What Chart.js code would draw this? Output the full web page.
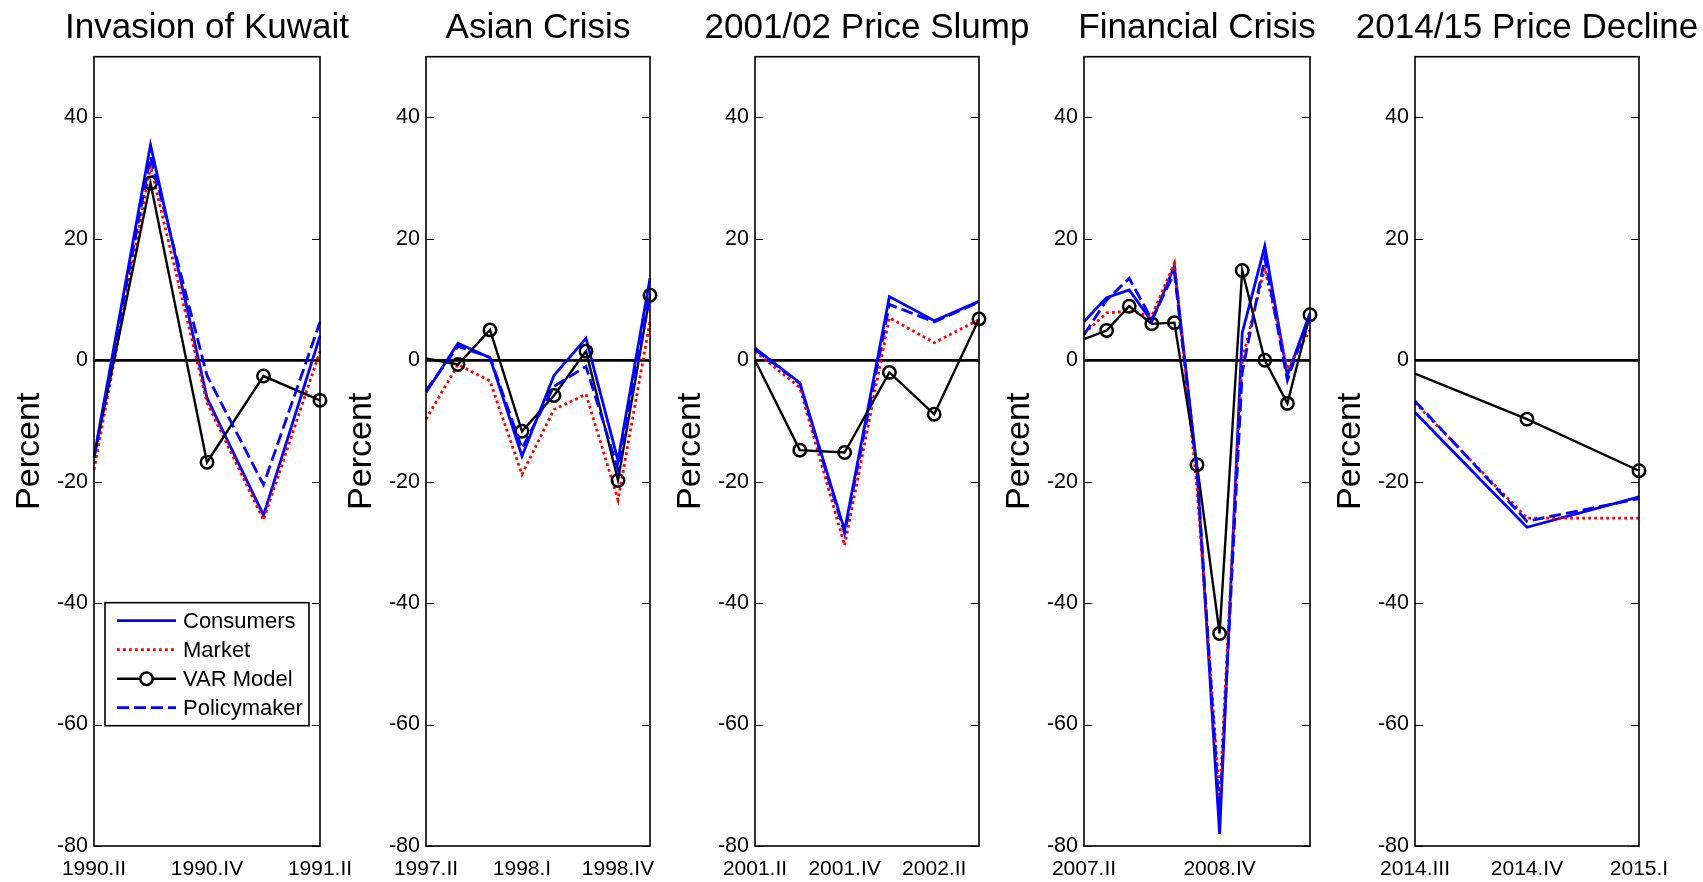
<!DOCTYPE html>
<html>
<head>
<meta charset="utf-8">
<script src="https://cdn.jsdelivr.net/npm/chart.js@4.4.1/dist/chart.umd.min.js"></script>
<style>
  html, body { margin: 0; padding: 0; background: #fff; overflow: hidden; }
  #wrap { position: relative; width: 1703px; height: 882px; overflow: hidden; background: #fff; }
  #wrap canvas { position: absolute; top: 0; }
</style>
</head>
<body>
<div id="wrap"></div>
<script>
// ---- data (percent) ----
const yTicks = [-80, -60, -40, -20, 0, 20, 40];
const yMin = -80;
const yMax = 50;

const kuwaitQuarters = ['1990.II', '1990.III', '1990.IV', '1991.I', '1991.II'];
const kuwaitTickLabels = ['1990.II', '1990.IV', '1991.II'];
const kuwaitConsumers = [-16, 35.5, -6.2, -25.5, 4];
const kuwaitMarket = [-18, 32, -7, -26.3, 1.5];
const kuwaitVar = [-16, 29.2, -16.8, -2.6, -6.6];
const kuwaitPolicy = [-16, 33.5, -2.5, -20.5, 6.3];

const asianQuarters = ['1997.II', '1997.III', '1997.IV', '1998.I', '1998.II', '1998.III', '1998.IV', '1999.I'];
const asianTickLabels = ['1997.II', '1998.I', '1998.IV'];
const asianConsumers = [-5.3, 2.8, 0.4, -15.8, -2.5, 3.6, -16.5, 13.5];
const asianMarket = [-9.7, -0.7, -3.4, -18.8, -8.1, -5.6, -23, 6.4];
const asianVar = [0.3, -0.7, 5, -11.7, -5.8, 1.5, -19.8, 10.7];
const asianPolicy = [-5, 2.3, 0.5, -14.5, -4.3, -1, -18, 11];

const slumpQuarters = ['2001.II', '2001.III', '2001.IV', '2002.I', '2002.II', '2002.III'];
const slumpTickLabels = ['2001.II', '2001.IV', '2002.II'];
const slumpConsumers = [2, -3.7, -28, 10.5, 6.5, 9.7];
const slumpMarket = [1.5, -4.5, -30.5, 7, 2.9, 6.7];
const slumpVar = [0, -14.8, -15.2, -2, -8.9, 6.8];
const slumpPolicy = [1.8, -3.8, -28.5, 9.2, 6.3, 9.6];

const crisisQuarters = ['2007.II', '2007.III', '2007.IV', '2008.I', '2008.II', '2008.III', '2008.IV',
                        '2009.I', '2009.II', '2009.III', '2009.IV'];
const crisisTickLabels = ['2007.II', '2008.IV'];
const crisisConsumers = [6.4, 10.3, 11.6, 6.4, 15.5, -18, -78, 4.5, 18.8, -2.5, 7.8];
const crisisMarket = [4.4, 7.8, 8.1, 7.3, 16, -21, -72, 0, 15.2, -1.5, 5];
const crisisVar = [3.5, 4.9, 8.9, 6, 6.2, -17.2, -45, 14.8, 0, -7.1, 7.5];
const crisisPolicy = [4.2, 9.9, 13.5, 6.7, 14.4, -18, -75, -2, 16.8, -3.3, 7.5];

const declineQuarters = ['2014.III', '2014.IV', '2015.I'];
const declineTickLabels = ['2014.III', '2014.IV', '2015.I'];
const declineConsumers = [-8.6, -27.5, -22.5];
const declineMarket = [-7, -26, -26];
const declineVar = [-2.2, -9.7, -18.2];
const declinePolicy = [-6.7, -26.5, -22.8];

const panels = [
    { title: 'Invasion of Kuwait', labels: kuwaitQuarters, ticks: kuwaitTickLabels,
      consumers: kuwaitConsumers, market: kuwaitMarket, varModel: kuwaitVar, policy: kuwaitPolicy, legend: true },
    { title: 'Asian Crisis', labels: asianQuarters, ticks: asianTickLabels,
      consumers: asianConsumers, market: asianMarket, varModel: asianVar, policy: asianPolicy },
    { title: '2001/02 Price Slump', labels: slumpQuarters, ticks: slumpTickLabels,
      consumers: slumpConsumers, market: slumpMarket, varModel: slumpVar, policy: slumpPolicy },
    { title: 'Financial Crisis', labels: crisisQuarters, ticks: crisisTickLabels,
      consumers: crisisConsumers, market: crisisMarket, varModel: crisisVar, policy: crisisPolicy },
    { title: '2014/15 Price Decline', labels: declineQuarters, ticks: declineTickLabels,
      consumers: declineConsumers, market: declineMarket, varModel: declineVar, policy: declinePolicy }
];

// ---- layout ----
const FONT = "'Liberation Sans', Arial, Helvetica, sans-serif";
const AXIS_W = 94;          // room for "Percent" + tick labels
const CANVAS_H = 882;
const panelLeft = [94, 426, 755, 1084, 1415];
const panelWidth = [226, 224, 224, 226, 224];
const TICK_LEN = 8;

// box + inward ticks (MATLAB style) and the legend on the first panel
const matlabBox = {
    id: 'matlabBox',
    afterDatasetsDraw(chart, args, opts) {
        const { ctx, chartArea: a } = chart;
        const y = chart.scales.y;
        ctx.save();
        ctx.strokeStyle = '#000';
        ctx.lineWidth = 1.6;
        ctx.setLineDash([]);
        ctx.strokeRect(a.left, a.top, a.right - a.left, a.bottom - a.top);
        ctx.beginPath();
        yTicks.forEach(v => {
            const py = Math.round(y.getPixelForValue(v)) + 0.5;
            ctx.moveTo(a.left, py);
            ctx.lineTo(a.left + TICK_LEN, py);
            ctx.moveTo(a.right, py);
            ctx.lineTo(a.right - TICK_LEN, py);
        });
        ctx.lineWidth = 1.2;
        ctx.stroke();

        if (opts.legend) {
            const bx = a.left + 11, by = a.top + 546, bw = 204, bh = 123;
            ctx.fillStyle = '#fff';
            ctx.fillRect(bx, by, bw, bh);
            ctx.lineWidth = 1.6;
            ctx.strokeRect(bx, by, bw, bh);
            ctx.font = '22px ' + FONT;
            ctx.textBaseline = 'middle';
            ctx.textAlign = 'left';
            chart.data.datasets.forEach((ds, i) => {
                const ry = by + 18 + i * 29;
                ctx.strokeStyle = ds.borderColor;
                ctx.lineWidth = ds.borderWidth;
                ctx.setLineDash(ds.borderDash || []);
                ctx.beginPath();
                ctx.moveTo(bx + 12, ry);
                ctx.lineTo(bx + 71, ry);
                ctx.stroke();
                ctx.setLineDash([]);
                if (ds.showMarker) {
                    ctx.beginPath();
                    ctx.arc(bx + 41.5, ry, 6.2, 0, Math.PI * 2);
                    ctx.fillStyle = '#fff';
                    ctx.fill();
                    ctx.lineWidth = 2.5;
                    ctx.strokeStyle = '#000';
                    ctx.stroke();
                }
                ctx.fillStyle = '#000';
                ctx.fillText(ds.label, bx + 78, ry + 1);
            });
        }
        ctx.restore();
    }
};

const wrap = document.getElementById('wrap');

panels.forEach((p, i) => {
    const w = panelWidth[i] + 2 * AXIS_W;
    const canvas = document.createElement('canvas');
    canvas.width = w;
    canvas.height = CANVAS_H;
    canvas.style.left = (panelLeft[i] - AXIS_W) + 'px';
    canvas.style.width = w + 'px';
    canvas.style.height = CANVAS_H + 'px';
    wrap.appendChild(canvas);

    new Chart(canvas, {
        type: 'line',
        data: {
            labels: p.labels,
            datasets: [
                { label: 'Consumers', data: p.consumers, borderColor: '#0000ff', borderWidth: 2.8,
                  pointRadius: 0, order: 4 },
                { label: 'Market', data: p.market, borderColor: '#ff0000', borderWidth: 2.8,
                  borderDash: [2.8, 3.2], pointRadius: 0, order: 3 },
                { label: 'VAR Model', data: p.varModel, borderColor: '#000000', borderWidth: 2.4,
                  showMarker: true,
                  pointRadius: p.varModel.map((v, k) => (k === 0 ? 0 : 6.2)),
                  pointBorderColor: '#000000', pointBackgroundColor: 'rgba(0,0,0,0)',
                  pointBorderWidth: 2.5, order: 2 },
                { label: 'Policymaker', data: p.policy, borderColor: '#0000ff', borderWidth: 2.8,
                  borderDash: [12, 5], pointRadius: 0, order: 1 }
            ]
        },
        options: {
            responsive: false,
            animation: false,
            devicePixelRatio: 1,
            layout: { padding: 0 },
            plugins: {
                legend: { display: false },
                tooltip: { enabled: false },
                title: {
                    display: true,
                    text: p.title,
                    color: '#000',
                    font: { size: 35, family: FONT, weight: 'normal' },
                    padding: { top: 7, bottom: 7.7 }
                },
                matlabBox: { legend: !!p.legend }
            },
            scales: {
                x: {
                    grid: { display: false, drawTicks: false },
                    border: { display: false },
                    ticks: {
                        autoSkip: false,
                        maxRotation: 0,
                        padding: 11,
                        color: '#000',
                        font: { size: 21, family: FONT },
                        callback: (v, idx) => (p.ticks.includes(p.labels[idx]) ? p.labels[idx] : '')
                    },
                    afterFit: s => { s.height = 36; }
                },
                y: {
                    min: yMin,
                    max: yMax,
                    afterBuildTicks: s => { s.ticks = yTicks.map(v => ({ value: v })); },
                    grid: {
                        drawTicks: false,
                        color: c => (c.tick && c.tick.value === 0 ? '#000' : 'rgba(0,0,0,0)'),
                        lineWidth: 2.7
                    },
                    border: { display: false },
                    ticks: { padding: 6, color: '#000', font: { size: 21.5, family: FONT } },
                    title: {
                        display: true,
                        text: 'Percent',
                        color: '#000',
                        font: { size: 34, family: FONT },
                        padding: { top: 9, bottom: 0 }
                    },
                    afterFit: s => { s.width = AXIS_W; }
                },
                yRight: {
                    position: 'right',
                    display: true,
                    grid: { display: false, drawTicks: false },
                    border: { display: false },
                    ticks: { display: false },
                    afterFit: s => { s.width = AXIS_W; }
                }
            }
        },
        plugins: [matlabBox]
    });
});
</script>
</body>
</html>
